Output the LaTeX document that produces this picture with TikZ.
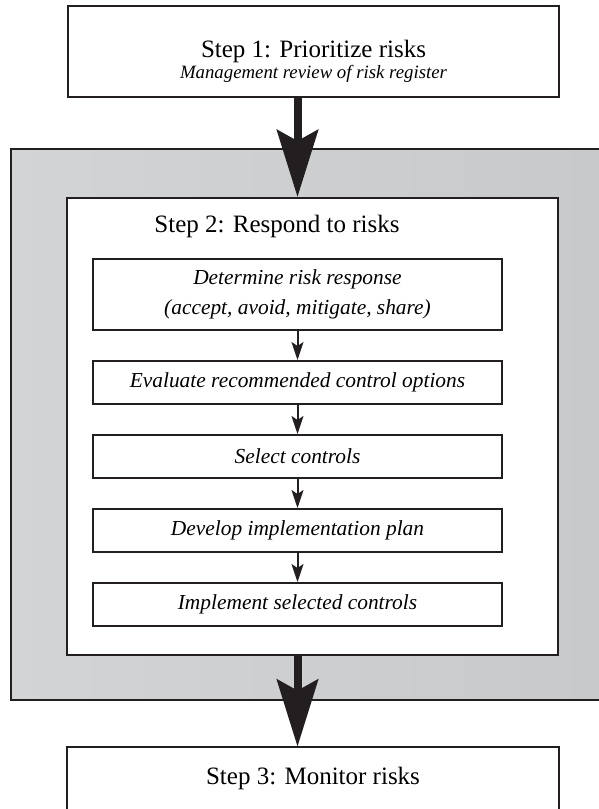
\documentclass[tikz,border=0pt]{standalone}
\usepackage{fontspec}
\setmainfont{Liberation Serif}
\usepackage{tikz}
\usetikzlibrary{arrows.meta,positioning,calc}
\definecolor{edge}{RGB}{35,31,32}
\definecolor{boxgray}{RGB}{200,201,203}
\definecolor{boxgraylight}{RGB}{211,212,213}
\newcommand\titlefont{\fontsize{12.5}{15}\selectfont}
\newcommand\notefont{\fontsize{9.4}{12}\selectfont\itshape}
\newcommand\subboxfont{\fontsize{10.7}{15}\selectfont\itshape}

\begin{document}
\begin{tikzpicture}[
  x=1pt, y=1pt,
  node distance=14.5pt,
  frame/.style={draw=edge, line width=1pt},
  bigbox/.style={rectangle, frame, fill=white, minimum width=245.5pt, inner sep=0pt},
  subbox/.style={rectangle, frame, fill=white, minimum width=204.5pt,
                 minimum height=21.5pt, inner sep=0pt, align=center, font=\subboxfont},
  title/.style={inner sep=0pt, font=\titlefont},
  bigarrow/.style={-{Stealth[length=33.5pt, width=20.5pt, inset=5.5pt]}, line width=4pt, draw=edge},
  arrow/.style={-{Stealth[length=9pt, width=6pt, inset=2pt]}, line width=1pt, draw=edge}
]
\useasboundingbox (0,0) rectangle (299.5,-404.5);

% step 1
\node[bigbox, minimum height=45.5pt] (s1) at (156.75,-25.75) {};
\node[title] (s1t) at ($(s1.north)+(0,-23)$) {Step 1: Prioritize risks};
\node[inner sep=0pt, font=\notefont] (s1n) at ($(s1.north)+(0,-34.5)$) {Management review of risk register};

% step 2 (grey band, open on the right)
\node[draw=none, left color=boxgraylight, right color=boxgray, inner sep=0pt,
      minimum width=294pt, minimum height=275.25pt] (band) at (152.5,-212.125) {};
\draw[frame] (band.north east) -- (band.north west) -- (band.south west) -- (band.south east);
\node[bigbox, minimum height=228.5pt] (resp) at (156.25,-213.25) {};
\node[title, anchor=west] (s2t) at ($(resp.north west)+(44,-14.5)$) {Step 2: Respond to risks};

\node[subbox, minimum height=35.5pt] (b1) at (148.75,-147.25)
  {Determine risk response\\(accept, avoid, mitigate, share)};
\node[subbox, below=of b1] (b2) {Evaluate recommended control options};
\node[subbox, below=of b2] (b3) {Select controls};
\node[subbox, below=of b3] (b4) {Develop implementation plan};
\node[subbox, below=of b4] (b5) {Implement selected controls};

\draw[arrow] (b1) -- (b2);
\draw[arrow] (b2) -- (b3);
\draw[arrow] (b3) -- (b4);
\draw[arrow] (b4) -- (b5);

% step 3 (runs off the bottom)
\node[draw=none, inner sep=0pt, minimum width=245.5pt, minimum height=31pt, font=\titlefont] (s3) at (156.5,-389) {Step 3: Monitor risks};
\draw[frame] (s3.south west) -- (s3.north west) -- (s3.north east) -- (s3.south east);

\draw[bigarrow] (s1.south -| b1.north) -- (resp.north -| b1.north);
\draw[bigarrow] (resp.south -| b1.north) -- (s3.north -| b1.north);

\end{tikzpicture}
\end{document}
